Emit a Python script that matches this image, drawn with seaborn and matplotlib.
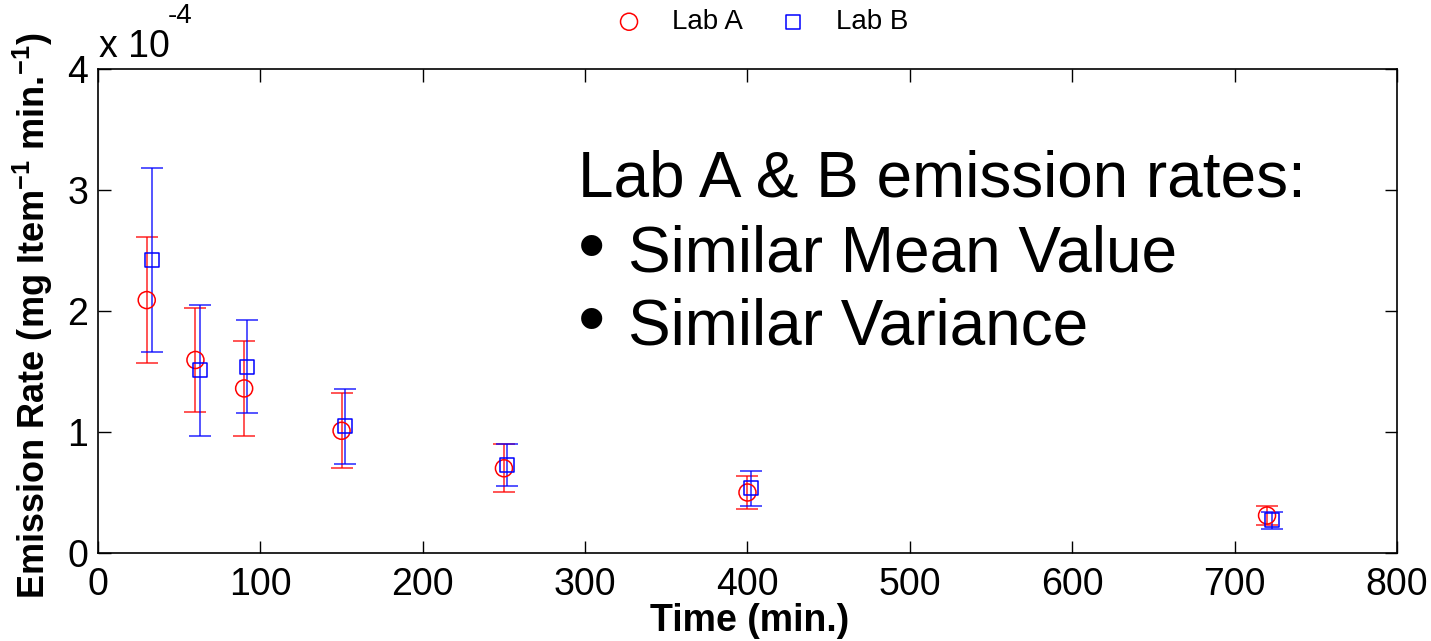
import numpy as np
import pandas as pd
import matplotlib
matplotlib.use("Agg")
import matplotlib.pyplot as plt
import seaborn as sns

# Data (emission rate in units of 1e-4 mg Item^-1 min^-1)
time_a = [30, 60, 90, 150, 250, 400, 720]
rate_a = [2.09, 1.595, 1.36, 1.01, 0.70, 0.50, 0.31]
err_a = [0.52, 0.43, 0.39, 0.31, 0.20, 0.135, 0.08]

time_b = [33, 63, 92, 152, 252, 402, 723]
rate_b = [2.42, 1.51, 1.54, 1.047, 0.725, 0.535, 0.27]
err_b = [0.76, 0.54, 0.385, 0.31, 0.175, 0.145, 0.072]

labels = ["Lab A", "Lab B"]
x_ticks = [0, 100, 200, 300, 400, 500, 600, 700, 800]
y_ticks = [0, 1, 2, 3, 4]
notes = ["Lab A & B emission rates:", "Similar Mean Value", "Similar Variance"]

sns.set_theme(style="white")
plt.rcParams['font.family'] = ['Liberation Sans', 'DejaVu Sans']
plt.rcParams['text.color'] = 'black'
plt.rcParams['axes.labelcolor'] = 'black'
plt.rcParams['mathtext.fontset'] = 'custom'
plt.rcParams['mathtext.rm'] = 'Liberation Sans'
plt.rcParams['mathtext.bf'] = 'Liberation Sans:bold'

fig = plt.figure(figsize=(14.31, 6.41), dpi=100)
ax = fig.add_axes([0.0685, 0.1373, 0.9077, 0.7551])

red = "#ff0000"
blue = "#0000ff"

ax.errorbar(time_a, rate_a, yerr=err_a, fmt='none', ecolor=red, elinewidth=1.1,
            capsize=8, capthick=1.1, alpha=0.85, zorder=2)
ax.errorbar(time_b, rate_b, yerr=err_b, fmt='none', ecolor=blue, elinewidth=1.1,
            capsize=8, capthick=1.1, alpha=0.85, zorder=2)

df = pd.DataFrame({
    "time": time_a + time_b,
    "rate": rate_a + rate_b,
    "lab": [labels[0]] * len(time_a) + [labels[1]] * len(time_b),
})
sns.scatterplot(data=df[df.lab == labels[0]], x="time", y="rate", ax=ax,
                marker='o', s=150, facecolors='none', edgecolor=red, linewidth=1.1,
                label=labels[0], zorder=3)
sns.scatterplot(data=df[df.lab == labels[1]], x="time", y="rate", ax=ax,
                marker='s', s=100, facecolors='none', edgecolor=blue, linewidth=1.1,
                label=labels[1], zorder=3)

ax.set_xlim(0, 800)
ax.set_ylim(0, 4)
ax.set_xticks(x_ticks)
ax.set_yticks(y_ticks)
ax.set_xticklabels([str(t) for t in x_ticks], fontsize=27)
ax.set_yticklabels([str(t) for t in y_ticks], fontsize=27)
ax.tick_params(direction='in', length=9, width=1, top=True, right=True,
               bottom=True, left=True, colors='black')
ax.tick_params(axis='x', pad=10)
ax.tick_params(axis='y', pad=7)
for s in ax.spines.values():
    s.set_color('black')
    s.set_linewidth(1.2)

ax.set_xlabel("Time (min.)", fontsize=27, fontweight='bold')
ax.xaxis.set_label_coords(0.502, -0.103)
ax.set_ylabel("Emission Rate (mg Item$^{\\mathbf{-1}}$ min.$^{\\mathbf{-1}}$)",
              fontsize=26, fontweight='bold')
ax.yaxis.set_label_coords(-0.033, 0.49)

# multiplier label
ax.text(0.001, 1.0248, "x 10", transform=ax.transAxes, fontsize=27,
        ha='left', va='baseline')
ax.text(0.054, 1.095, "-4", transform=ax.transAxes, fontsize=20,
        ha='left', va='baseline')

# annotation
ax.text(0.3695, 0.7355, notes[0], transform=ax.transAxes,
        fontsize=46, ha='left', va='baseline')
for yb, t in zip([0.5806, 0.4298], notes[1:]):
    ax.text(0.3695, yb + 0.045, "\u2022", transform=ax.transAxes,
            fontsize=56, ha='left', va='center')
    ax.text(0.408, yb, t, transform=ax.transAxes,
            fontsize=46, ha='left', va='baseline')

leg = ax.legend(loc='center', bbox_to_anchor=(0.511, 1.097), ncol=2, frameon=False,
                fontsize=20, handlelength=1.0, handletextpad=1.05,
                columnspacing=1.3, borderaxespad=0.0, borderpad=0.0)

fig.savefig("out.png", dpi=100)
